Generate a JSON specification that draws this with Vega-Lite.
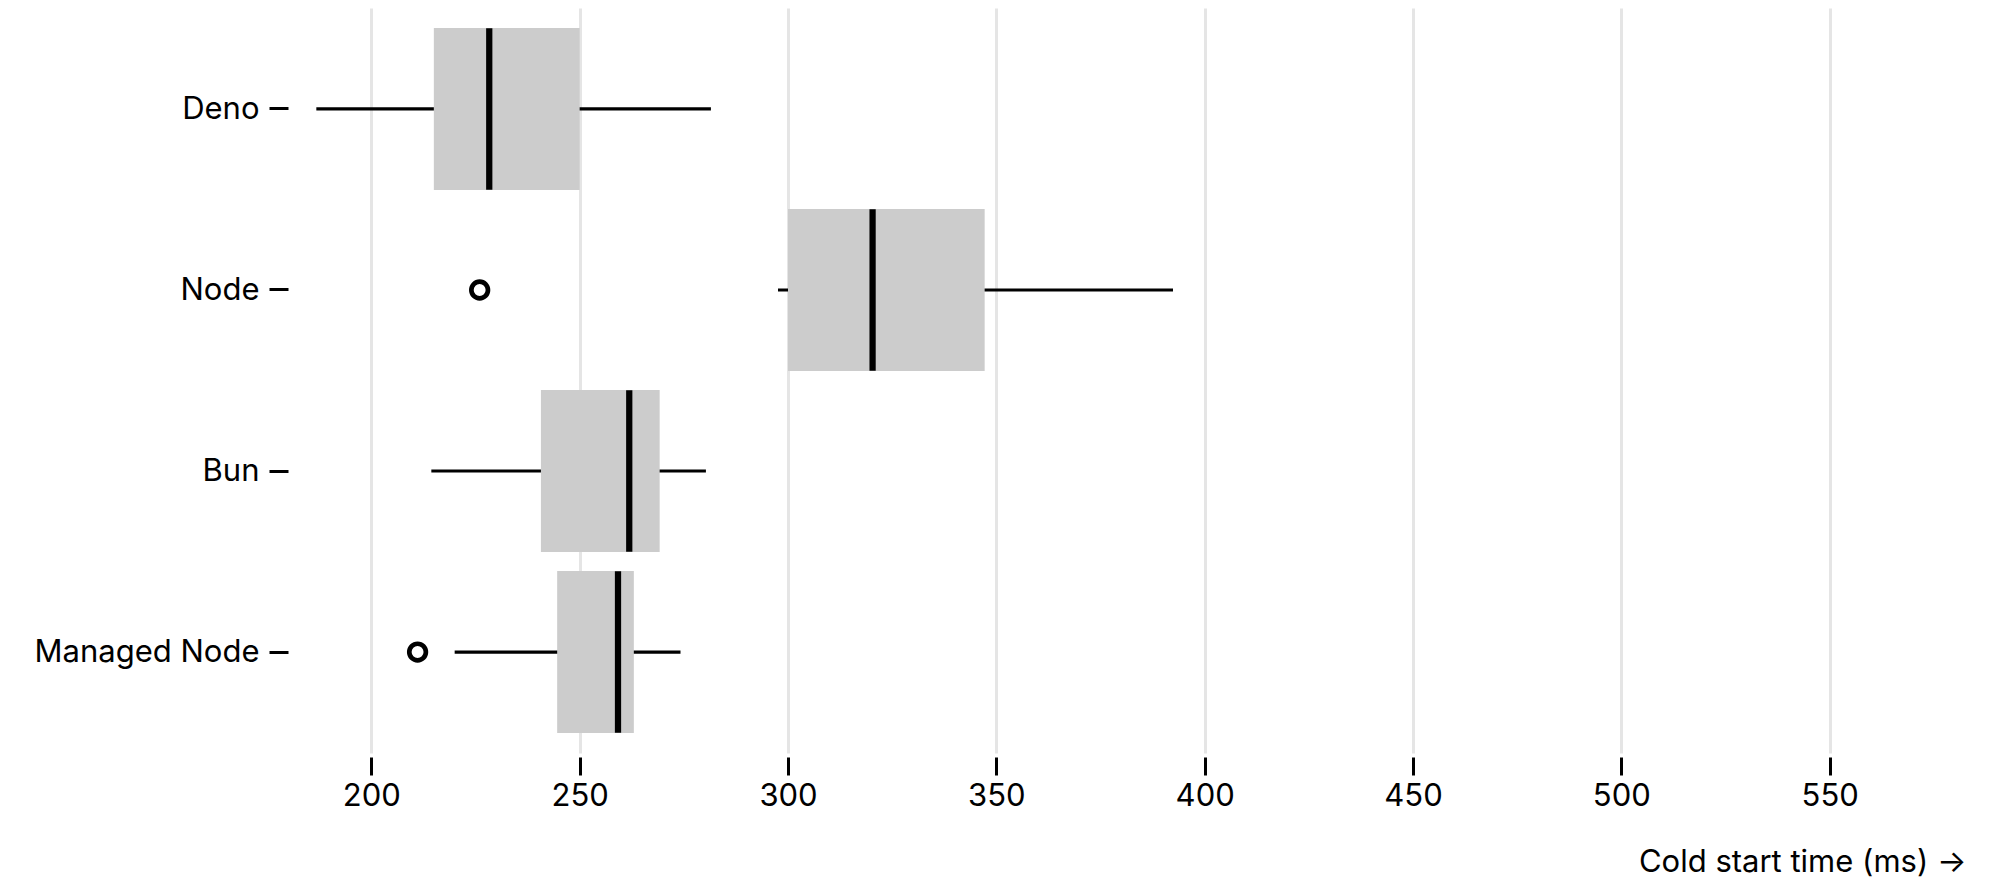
{
  "$schema": "https://vega.github.io/schema/vega-lite/v6.json",
  "autosize": {"type": "none"},
  "padding": {"left": 288, "top": 8, "right": 37, "bottom": 143},
  "width": 1675,
  "height": 745,
  "background": "white",
  "config": {
    "font": "Inter",
    "view": {"stroke": null}
  },
  "datasets": {
    "boxes": [
      {"runtime": "Deno", "lo": 186.8, "q1": 215.0, "median": 228.3, "q3": 250.0, "hi": 281.5},
      {"runtime": "Node", "lo": 297.6, "q1": 300.0, "median": 320.3, "q3": 347.2, "hi": 392.4},
      {"runtime": "Bun", "lo": 214.4, "q1": 240.7, "median": 261.9, "q3": 269.2, "hi": 280.3},
      {"runtime": "Managed Node", "lo": 220.0, "q1": 244.6, "median": 259.2, "q3": 263.0, "hi": 274.2}
    ],
    "outliers": [
      {"runtime": "Node", "value": 226.0},
      {"runtime": "Managed Node", "value": 211.1}
    ]
  },
  "encoding": {
    "y": {
      "field": "runtime",
      "type": "nominal",
      "sort": ["Deno", "Node", "Bun", "Managed Node"],
      "scale": {"paddingInner": 0.105, "paddingOuter": 0.11},
      "axis": {
        "title": null,
        "domain": false,
        "tickSize": 19,
        "tickWidth": 3,
        "tickColor": "black",
        "labelFontSize": 31,
        "labelColor": "black",
        "labelPadding": 10,
        "labelLimit": 0,
        "labelFont": "Inter",
        "labelOffset": 1
      }
    }
  },
  "layer": [
    {
      "data": {"name": "boxes"},
      "mark": {"type": "rule", "stroke": "black", "strokeWidth": 3.125},
      "encoding": {
        "x": {
          "field": "lo",
          "type": "quantitative",
          "title": "Cold start time (ms) →",
          "scale": {"domain": [180, 582], "nice": false, "zero": false},
          "axis": {
            "values": [200, 250, 300, 350, 400, 450, 500, 550],
            "offset": 4,
            "domain": false,
            "grid": true,
            "gridColor": "black",
            "gridOpacity": 0.1,
            "gridWidth": 3,
            "tickSize": 18,
            "tickWidth": 3,
            "tickColor": "black",
            "labelFontSize": 31,
            "labelColor": "black",
            "labelPadding": 6.5,
            "labelFont": "Inter",
            "titleFont": "Inter",
            "titleFontSize": 31,
            "titleFontWeight": "normal",
            "titleColor": "black",
            "titleAnchor": "end",
            "titleAlign": "right",
            "titleBaseline": "alphabetic",
            "titleX": 1678,
            "titleY": 114
          }
        },
        "x2": {"field": "hi"}
      }
    },
    {
      "data": {"name": "boxes"},
      "mark": {"type": "bar", "fill": "#cccccc", "opacity": 1},
      "encoding": {
        "x": {"field": "q1", "type": "quantitative", "title": "Cold start time (ms) →"},
        "x2": {"field": "q3"}
      }
    },
    {
      "data": {"name": "boxes"},
      "mark": {"type": "tick", "color": "black", "opacity": 1, "thickness": 6.25, "size": 161.6, "orient": "vertical"},
      "encoding": {
        "x": {"field": "median", "type": "quantitative", "title": "Cold start time (ms) →"}
      }
    },
    {
      "data": {"name": "outliers"},
      "mark": {"type": "point", "shape": "circle", "filled": false, "stroke": "black", "strokeWidth": 4.7, "size": 276, "opacity": 1},
      "encoding": {
        "x": {"field": "value", "type": "quantitative", "title": "Cold start time (ms) →"}
      }
    }
  ]
}
